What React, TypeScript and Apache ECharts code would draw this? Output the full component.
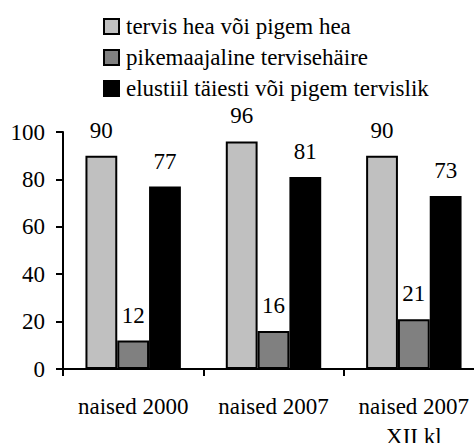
import React, { useEffect, useRef } from "react";
import * as echarts from "echarts";

const categories = ["naised 2000", "naised 2007", "naised 2007\nXII kl"];
const seriesNames = [
  "tervis hea või pigem hea",
  "pikemaajaline tervisehäire",
  "elustiil täiesti või pigem tervislik",
];
const seriesValues = [
  [90, 96, 90],
  [12, 16, 21],
  [77, 81, 73],
];
const seriesColors = ["#C0C0C0", "#808080", "#000000"];
const yTicks = { min: 0, max: 100, interval: 20 };

const FONT = "Liberation Serif";

export default function App() {
  const ref = useRef<HTMLDivElement>(null);
  useEffect(() => {
    document.body.style.margin = "0";
    const chart = echarts.init(ref.current!, null, { renderer: "svg" });
    chart.setOption({
      animation: false,
      textStyle: { fontFamily: FONT, color: "#000" },
      legend: {
        orient: "vertical",
        left: 98,
        top: 10,
        itemWidth: 15,
        itemHeight: 15,
        itemGap: 8,
        icon: "rect",
        textStyle: { fontFamily: FONT, fontSize: 23, color: "#000", padding: [0, 0, 0, 2] },
        data: seriesNames,
      },
      grid: {
        left: 63,
        right: -10,
        top: 132,
        bottom: 74,
        containLabel: false,
        outerBoundsMode: "none",
      },
      xAxis: {
        type: "category",
        data: categories,
        axisLine: { lineStyle: { color: "#000", width: 2 } },
        axisTick: { show: true, length: 7, lineStyle: { color: "#000", width: 2 }, alignWithLabel: false },
        axisLabel: {
          interval: 0,
          margin: 22,
          fontFamily: FONT,
          fontSize: 23,
          color: "#000",
          lineHeight: 30,
        },
      },
      yAxis: {
        type: "value",
        min: yTicks.min,
        max: yTicks.max,
        interval: yTicks.interval,
        splitLine: { show: false },
        axisLine: { show: true, lineStyle: { color: "#000", width: 2 } },
        axisTick: { show: true, length: 7, lineStyle: { color: "#000", width: 2 } },
        axisLabel: { margin: 18, fontFamily: FONT, fontSize: 23, color: "#000" },
      },
      series: seriesNames.map((name, i) => ({
        name,
        type: "bar",
        data: seriesValues[i],
        barGap: "0%",
        barCategoryGap: "32%",
        itemStyle: { color: seriesColors[i], borderColor: "#000", borderWidth: 2 },
        label: {
          show: true,
          position: "top",
          distance: 14,
          fontFamily: FONT,
          fontSize: 23,
          color: "#000",
        },
      })),
    });
    return () => chart.dispose();
  }, []);
  return <div ref={ref} style={{ width: 474, height: 443 }} />;
}
